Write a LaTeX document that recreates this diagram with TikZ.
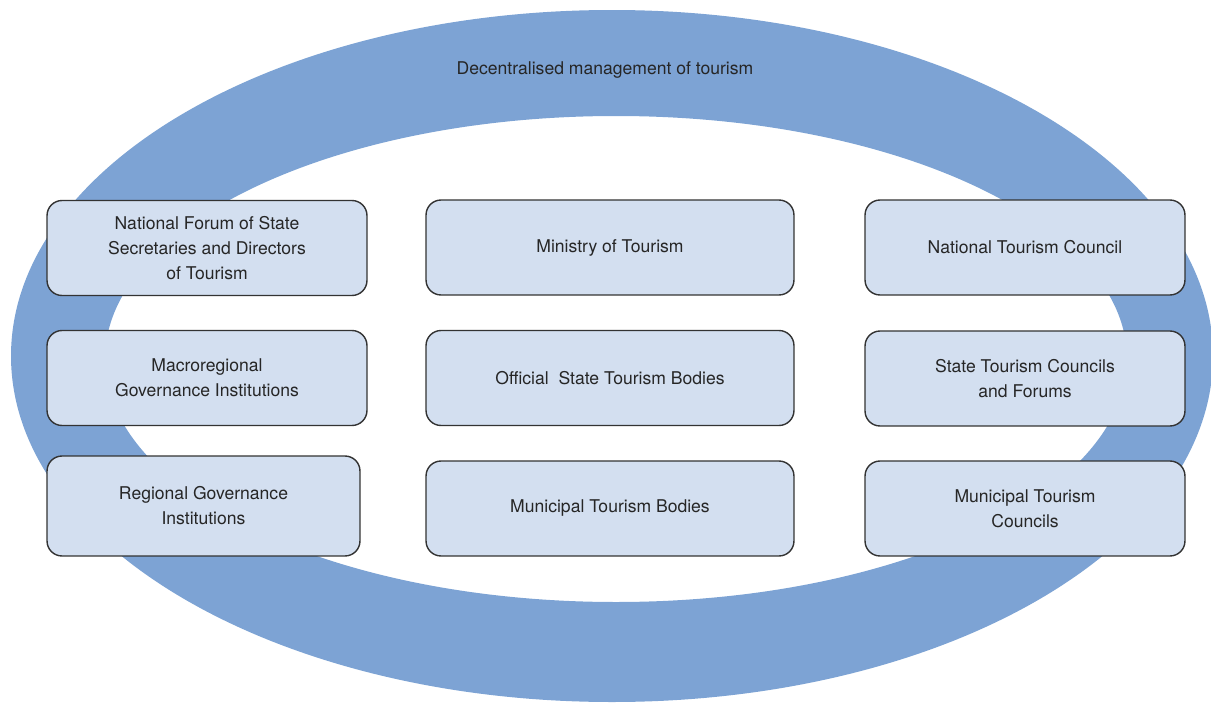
\documentclass[tikz,border=0pt]{standalone}
\usepackage{fontspec}
\setmainfont{TeX Gyre Heros}
\definecolor{ringblue}{HTML}{7DA3D4}
\definecolor{boxfill}{HTML}{D3DFF0}
\definecolor{boxline}{HTML}{333333}
\definecolor{txtgray}{HTML}{262626}
\begin{document}
\begin{tikzpicture}[x=0.02cm, y=-0.02cm,
    unit/.style={draw=boxline, line width=0.8pt, fill=boxfill, rounded corners=0.3cm,
      minimum width=6.4cm, minimum height=1.9cm, inner sep=0pt, align=center,
      text=txtgray, font=\fontsize{10}{14.2}\selectfont},
    wideunit/.style={unit, minimum width=7.36cm}]
    \clip (0,0) rectangle (1211,703);

    % Ring
    \fill[ringblue, even odd rule] (612,356) ellipse [x radius=601, y radius=346]
                                   (616,359) ellipse [x radius=511, y radius=243];
    \node[text=txtgray, font=\fontsize{10}{12}\selectfont] (title) at (605,70) {Decentralised management of tourism};

    % Left column
    \node[unit] (forum) at (207,248) {National Forum of State\\Secretaries and Directors\\of Tourism};
    \node[unit] (macro) at (207,378) {Macroregional\\Governance Institutions};
    \node[unit, minimum width=6.26cm, minimum height=2cm] (regional) at (203.5,506) {Regional Governance\\Institutions};

    % Middle column
    \node[wideunit] (ministry) at (610,247.5) {Ministry of Tourism};
    \node[wideunit] (official) at (610,378) {Official~ State Tourism Bodies};
    \node[wideunit] (municipal) at (610,508.5) {Municipal Tourism Bodies};

    % Right column
    \node[unit] (natcouncil) at (1025,247.5) {National Tourism Council};
    \node[unit] (statecouncil) at (1025,378.5) {State Tourism Councils\\and Forums};
    \node[unit] (muncouncil) at (1025,508.5) {Municipal Tourism\\Councils};
\end{tikzpicture}
\end{document}
